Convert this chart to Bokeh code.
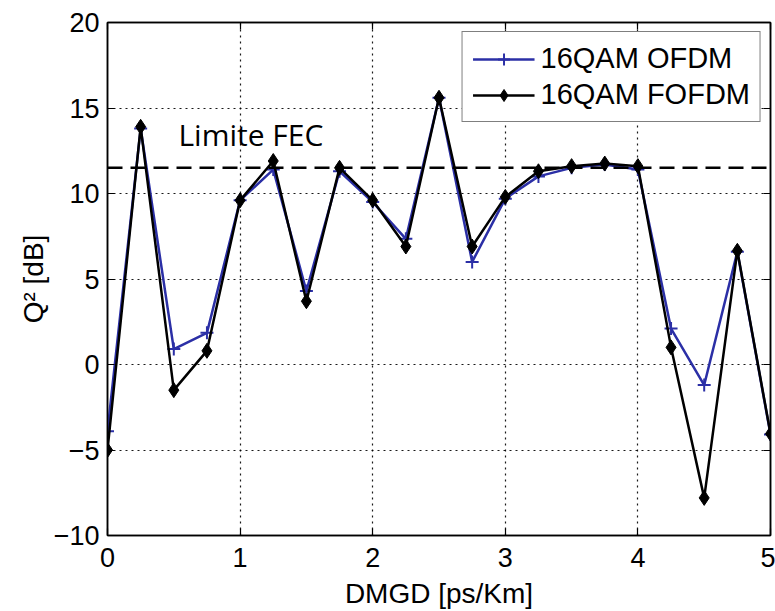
from bokeh.plotting import figure
from bokeh.models import (Range1d, FixedTicker, LinearAxis, Span, Label,
                          Legend)
from bokeh.embed import file_html
from bokeh.resources import INLINE

# DMGD sweep (ps/Km)
dmgd = [0.0, 0.25, 0.5, 0.75, 1.0, 1.25, 1.5, 1.75, 2.0, 2.25, 2.5,
        2.75, 3.0, 3.25, 3.5, 3.75, 4.0, 4.25, 4.5, 4.75, 5.0]

# Q^2 factor (dB) for each modulation scheme
q2_ofdm = [-3.9, 13.8, 0.9, 1.85, 9.6, 11.4, 4.3, 11.3, 9.5, 7.35, 15.6,
           6.0, 9.7, 11.0, 11.5, 11.7, 11.4, 2.1, -1.2, 6.6, -4.1]
q2_fofdm = [-5.0, 13.9, -1.5, 0.8, 9.6, 11.9, 3.7, 11.5, 9.6, 6.9, 15.6,
            6.9, 9.8, 11.3, 11.6, 11.75, 11.6, 1.0, -7.8, 6.65, -4.05]

fec_limit = 11.5
x_ticks = [0, 1, 2, 3, 4, 5]
y_ticks = [-10, -5, 0, 5, 10, 15, 20]

BLUE = "#2b2fa6"
TICK_FONT = "Liberation Sans"

p = figure(width=775, height=611, output_backend="svg", toolbar_location=None,
           x_range=Range1d(0, 5), y_range=Range1d(-10, 20),
           min_border_left=107, min_border_right=5,
           min_border_top=22, min_border_bottom=71)
p.background_fill_color = "white"
p.border_fill_color = "white"
p.outline_line_color = "black"
p.outline_line_width = 1.5

# axes: matlab-like inward ticks, box on all sides
for ax in (p.xaxis[0], p.yaxis[0]):
    ax.major_tick_in = 7
    ax.major_tick_out = 0
    ax.minor_tick_line_color = None
    ax.axis_line_color = "black"
    ax.axis_line_width = 1.5
    ax.major_tick_line_color = "black"
    ax.major_tick_line_width = 1.2
    ax.major_label_text_font = TICK_FONT
    ax.major_label_text_font_size = "27px"
    ax.major_label_text_color = "black"
    ax.axis_label_text_font = TICK_FONT
    ax.axis_label_text_font_size = "28px"
    ax.axis_label_text_font_style = "normal"
    ax.axis_label_text_color = "black"

p.xaxis.ticker = FixedTicker(ticks=x_ticks)
p.yaxis.ticker = FixedTicker(ticks=y_ticks)
p.xaxis.major_label_standoff = 12
p.yaxis.major_label_standoff = 8
p.xaxis.axis_label = "DMGD [ps/Km]"
p.yaxis.axis_label = "Q\u00b2 [dB]"
p.xaxis.axis_label_standoff = 8
p.yaxis.axis_label_standoff = 2

# tick-only axes on the top and right edges
for side, ticks in (("right", y_ticks), ("above", x_ticks)):
    extra = LinearAxis(ticker=FixedTicker(ticks=ticks),
                       major_label_text_color=None,
                       major_label_text_font_size="1px",
                       major_label_standoff=0,
                       major_tick_in=7, major_tick_out=0,
                       minor_tick_line_color=None,
                       axis_line_color="black", axis_line_width=1.5,
                       major_tick_line_color="black", major_tick_line_width=1.2)
    p.add_layout(extra, side)

# dotted grid
for g in (p.xgrid[0], p.ygrid[0]):
    g.grid_line_color = "black"
    g.grid_line_dash = "2 4"
    g.grid_line_width = 1.2
    g.grid_line_alpha = 0.9
p.xgrid.ticker = FixedTicker(ticks=x_ticks)
p.ygrid.ticker = FixedTicker(ticks=y_ticks)

# FEC threshold
p.add_layout(Span(location=fec_limit, dimension="width", line_color="black",
                  line_width=2.5, line_dash="15 8"))
p.add_layout(Label(x=0.535, y=fec_limit, y_offset=33, text="Limite FEC",
                   text_font="Open Sans", text_font_size="30px",
                   text_color="black", text_baseline="alphabetic"))

# series
l1 = p.line(dmgd, q2_ofdm, line_color=BLUE, line_width=2.5)
m1 = p.scatter(dmgd, q2_ofdm, marker="cross", size=13, line_color=BLUE,
               line_width=2)
l2 = p.line(dmgd, q2_fofdm, line_color="black", line_width=2.5)
m2 = p.scatter(dmgd, q2_fofdm, marker="diamond", size=15,
               fill_color="black", line_color="black", line_width=1)

legend = Legend(items=[("16QAM OFDM", [l1, m1]), ("16QAM FOFDM", [l2, m2])],
                location="top_right", margin=9, padding=10, spacing=3,
                glyph_width=62, glyph_height=30, label_height=30,
                label_standoff=6,
                label_text_font=TICK_FONT, label_text_font_size="29px",
                label_text_color="black",
                border_line_color="black", border_line_width=1.5,
                background_fill_color="white", background_fill_alpha=1.0)
p.add_layout(legend)

open("out.html", "w").write(file_html(p, INLINE))
